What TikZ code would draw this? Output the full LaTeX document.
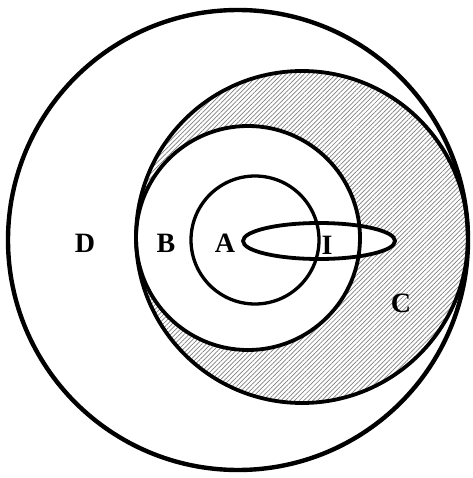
\documentclass[tikz,border=0pt]{standalone}
\usepackage{fontspec}
\setmainfont{Liberation Serif}
\usetikzlibrary{patterns.meta}
\tikzset{
  ring/.style={line width=3.8pt},
  hatch/.style={pattern={Lines[angle=45,distance=3.2pt,line width=0.7pt]},pattern color=black!50},
  lbl/.style={font=\fontsize{28}{28}\selectfont\bfseries,inner sep=0pt}
}
\begin{document}
\begin{tikzpicture}[x=1pt,y=-1pt]
  \useasboundingbox (0,0) rectangle (472,478);
  % shaded part of C
  \fill[hatch] (302,237) circle (166pt);
  \fill[white] (248,238) circle (112pt);
  \fill[white] (319,241) ellipse (76pt and 18pt);
  % sets
  \draw[ring,line width=4.4pt] (238,240) circle (230pt);
  \draw[ring] (302,237) circle (166pt);
  \draw[ring] (248,238) circle (112pt);
  \draw[ring,line width=3.3pt] (255,240) circle (64pt);
  \draw[ring] (319,241) ellipse (76pt and 18pt);
  % labels
  \node[lbl] (labD) at (85,243) {D};
  \node[lbl] (labB) at (166,243) {B};
  \node[lbl] (labA) at (225,243) {A};
  \node[lbl] (labI) at (327,245) {I};
  \node[lbl] (labC) at (401,303) {C};
\end{tikzpicture}
\end{document}
